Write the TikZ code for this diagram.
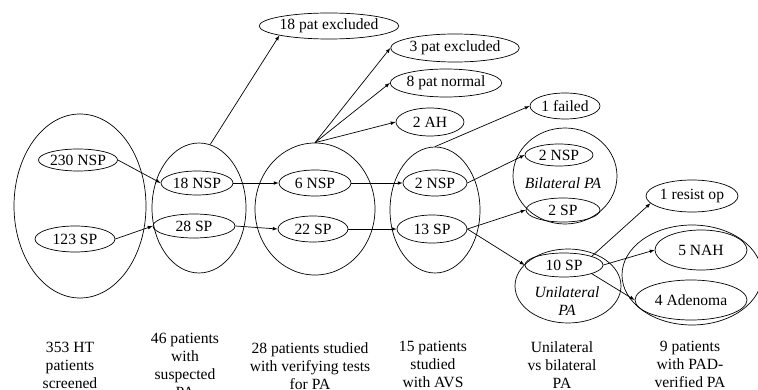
\documentclass[tikz,border=0pt]{standalone}
\usepackage{fontspec}
\setmainfont{Liberation Serif}
\usetikzlibrary{shapes.geometric}

\tikzset{
  grp/.style={draw, ellipse, inner sep=0pt},
  pat/.style={draw, ellipse, inner sep=0pt},
  steplabel/.style={align=center, anchor=north, inner sep=0pt},
}

\begin{document}
\begin{tikzpicture}[x=1pt, y=-1pt, line width=0.7pt, >=latex, font=\fontsize{15.6}{18}\selectfont]

\useasboundingbox (0,0) rectangle (758,390);
\clip (0,0) rectangle (758,390);

% big groups
\node[grp, minimum width=132pt, minimum height=184pt] (screen) at (80,206) {};
\node[grp, minimum width=94pt, minimum height=130pt] (suspect) at (199,208) {};
\node[grp, minimum width=120pt, minimum height=132pt] (verify) at (315,209) {};
\node[grp, minimum width=90pt, minimum height=126pt] (avs) at (435,210) {};
\node[grp, minimum width=104pt, minimum height=96pt] (bilat) at (565,176) {};
\node[grp, minimum width=106pt, minimum height=74pt] (unilat) at (568,286) {};
\node[grp, minimum width=140pt, minimum height=100pt] (padv) at (692,275) {};

% patients
\node[pat, minimum width=78pt, minimum height=22pt] (nsp230) at (78,160) {230 NSP};
\node[pat, minimum width=80pt, minimum height=26pt] (sp123) at (75,239) {123 SP};
\node[pat, minimum width=72pt, minimum height=24pt] (nsp18) at (197,183) {18 NSP};
\node[pat, minimum width=82pt, minimum height=24pt] (sp28) at (194,226) {28 SP};
\node[pat, minimum width=72pt, minimum height=26pt] (nsp6) at (315,183) {6 NSP};
\node[pat, minimum width=70pt, minimum height=26pt] (sp22) at (313,229) {22 SP};
\node[pat, minimum width=64pt, minimum height=26pt] (nsp2) at (435,183) {2 NSP};
\node[pat, minimum width=70pt, minimum height=28pt] (sp13) at (432,229) {13 SP};
\node[pat, minimum width=68pt, minimum height=22pt] (bnsp2) at (559,155) {2 NSP};
\node[pat, minimum width=74pt, minimum height=24pt] (bsp2) at (563,210) {2 SP};
\node[pat, minimum width=78pt, minimum height=24pt] (sp10) at (564,265) {10 SP};

% outcomes
\node[pat, minimum width=124pt, minimum height=26pt] (excl18) at (329,26) {18 pat excluded};
\node[pat, minimum width=126pt, minimum height=28pt] (excl3) at (455,48) {3 pat excluded};
\node[pat, minimum width=108pt, minimum height=28pt] (norm8) at (446,83) {8 pat normal};
\node[pat, minimum width=68pt, minimum height=28pt] (ah2) at (430,122) {2 AH};
\node[pat, minimum width=70pt, minimum height=26pt] (failed1) at (565,106) {1 failed};
\node[pat, minimum width=92pt, minimum height=32pt] (resist1) at (692,196) {1 resist op};
\node[pat, minimum width=92pt, minimum height=40pt] (nah5) at (701,250) {5 NAH};
\node[pat, minimum width=112pt, minimum height=40pt] (aden4) at (691,300) {4 Adenoma};

\node[font=\fontsize{15.6}{18}\selectfont\itshape] (bilabel) at (563,183) {Bilateral PA};
\node[font=\fontsize{15.6}{18}\selectfont\itshape, align=center] (unilabel) at (567,301) {Unilateral\\PA};

% flow
\draw[->] (nsp230.east) -- (nsp18.west);
\draw[->] (sp123.east) -- (sp28.west);
\draw[->] (nsp18.east) -- (nsp6.west);
\draw[->] (sp28.east) -- (sp22.west);
\draw[->] (nsp6.east) -- (nsp2.west);
\draw[->] (sp22.east) -- (sp13.west);
\draw[->] (suspect.80) -- (excl18.south west);
\draw[->] (verify.north) -- (excl3.west);
\draw[->] (verify.north) -- (norm8.west);
\draw[->] (verify.north) -- (ah2.west);
\draw[->] (avs.north) -- (failed1.west);
\draw[->] (nsp2.east) -- (bnsp2.west);
\draw[->] (sp13.east) -- (bsp2.west);
\draw[->] (sp13.east) -- (sp10.west);
\draw[->] (sp10.north east) -- (resist1.190);
\draw[->] (sp10.east) -- (nah5.west);
\draw[->] (sp10.south east) -- (aden4.west);

% captions
\node[steplabel] (c1) at (70,342) {353 HT\\patients\\screened};
\node[steplabel] (c2) at (185,333) {46 patients\\with\\suspected\\PA};
\node[steplabel] (c3) at (310,342) {28 patients studied\\with verifying tests\\for PA};
\node[steplabel] (c4) at (433,341) {15 patients\\studied\\with AVS};
\node[steplabel] (c5) at (562,341) {Unilateral\\vs bilateral\\PA};
\node[steplabel] (c6) at (690,341) {9 patients\\with PAD-\\verified PA};

\end{tikzpicture}
\end{document}
